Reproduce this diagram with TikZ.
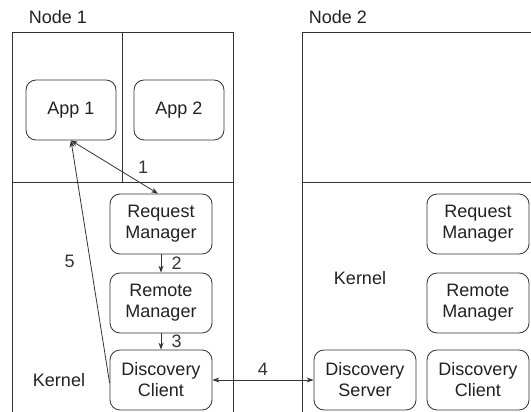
\documentclass[tikz,border=0pt]{standalone}
\usepackage{fontspec}
\setmainfont{Liberation Sans}
\usetikzlibrary{arrows.meta,positioning}
\definecolor{LineGray}{rgb}{0.2,0.2,0.2}
\definecolor{TextGray}{rgb}{0.13,0.13,0.13}

\tikzset{
  module/.style={draw=LineGray, line width=0.8pt, rounded corners=10pt,
    minimum width=102pt, minimum height=60pt, inner sep=0pt, align=center},
  link/.style={LineGray, line width=0.8pt},
  tip/.tip={Stealth[length=7pt,width=5pt]},
}

\begin{document}
\begin{tikzpicture}[x=1pt, y=-1pt, font=\fontsize{18}{21}\selectfont, text=TextGray]
    \useasboundingbox (0,0) rectangle (531,412);
    \clip (0,0) rectangle (531,412);
    %%Frames
    \draw[link] (12,32) rectangle (233,440);
    \draw[link] (12,182) to (233,182);
    \draw[link] (122,32) to (122,182);
    \draw[link] (302,32) rectangle (560,440);
    \draw[link] (302,182) to (560,182);
    \node (title1) at (58,17) {Node 1};
    \node (title2) at (338,17) {Node 2};
    %%Node 1
    \node[module, minimum width=90pt] (app1) at (71,110) {App 1};
    \node[module, minimum width=90pt] (app2) at (179,110) {App 2};
    \node[module] (req1) at (161,224) {Request\\Manager};
    \node[module] (rem1) at (161,303) {Remote\\Manager};
    \node[module] (dc1) at (161,380) {Discovery\\Client};
    \node (kernel1) at (59,380) {Kernel};
    %%Node 2
    \node[module] (req2) at (478,224) {Request\\Manager};
    \node[module] (rem2) at (478,303) {Remote\\Manager};
    \node[module] (ds2) at (365,380) {Discovery\\Server};
    \node[module] (dc2) at (478,380) {Discovery\\Client};
    \node (kernel2) at (360,278) {Kernel};
    %%Messages
    \draw[link, tip-tip] (app1.south) to node[anchor=west, xshift=20pt]{1} ([xshift=-3pt]req1.north);
    \draw[link, -tip] (req1) to node[right=7pt]{2} (rem1);
    \draw[link, -tip] (rem1) to node[right=7pt]{3} (dc1);
    \draw[link, tip-tip] (dc1) to node[above=1pt]{4} (ds2);
    \draw[link, -tip] ([yshift=-3pt]dc1.west) to node[left=12pt]{5} (app1.south);
\end{tikzpicture}
\end{document}
